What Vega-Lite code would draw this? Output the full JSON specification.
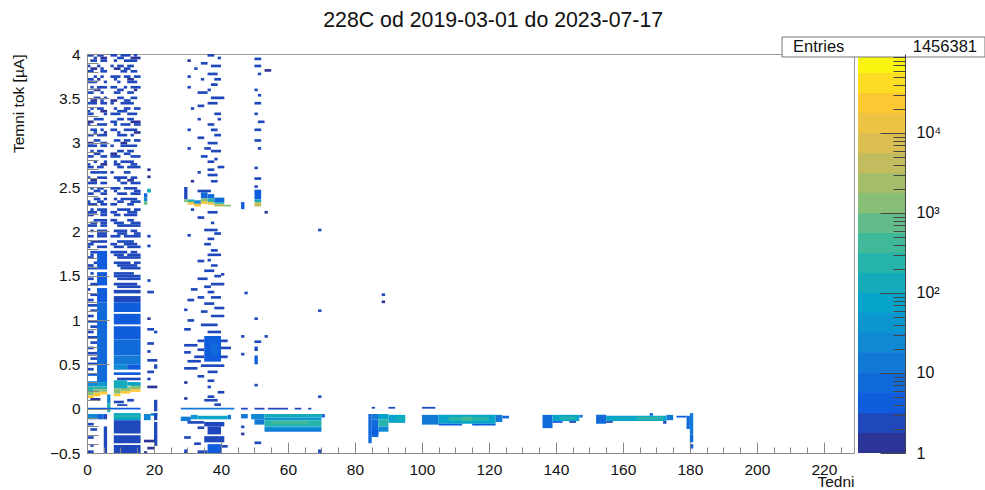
{"$schema":"https://vega.github.io/schema/vega-lite/v6.json","background":"white","padding":{"left":10,"top":10,"right":0,"bottom":0},"bounds":"flush","spacing":4,"title":{"text":"228C od 2019-03-01 do 2023-07-17","anchor":"middle","font":"Liberation Sans","fontSize":21.3,"fontWeight":"normal","color":"#111","offset":5,"dx":-5},"config":{"text":{"font":"Liberation Sans"}},"hconcat":[{"width":767,"height":399,"view":{"stroke":"#999"},"data":{"values":[
{"w":0,"e":2,"a":3.97,"b":4,"n":2},{"w":3,"e":5,"a":3.97,"b":4,"n":2},{"w":7,"e":9,"a":3.97,"b":4,"n":2},{"w":10,"e":13,"a":3.97,"b":4,"n":2},{"w":14,"e":15,"a":3.97,"b":4,"n":2},
{"w":2,"e":3,"a":3.94,"b":3.97,"n":2},{"w":4,"e":6,"a":3.94,"b":3.97,"n":1},{"w":9,"e":11,"a":3.94,"b":3.97,"n":2},{"w":13,"e":16,"a":3.94,"b":3.97,"n":1},
{"w":1,"e":3,"a":3.91,"b":3.94,"n":2},{"w":4,"e":6,"a":3.91,"b":3.94,"n":2},{"w":8,"e":9,"a":3.91,"b":3.94,"n":2},{"w":11,"e":15,"a":3.91,"b":3.94,"n":2},
{"w":0,"e":1,"a":3.85,"b":3.88,"n":2},{"w":3,"e":4,"a":3.85,"b":3.88,"n":2},{"w":7,"e":8,"a":3.85,"b":3.88,"n":2},{"w":9,"e":11,"a":3.85,"b":3.88,"n":2},{"w":12,"e":14,"a":3.85,"b":3.88,"n":2},
{"w":1,"e":3,"a":3.82,"b":3.85,"n":1},{"w":4,"e":5,"a":3.82,"b":3.85,"n":2},{"w":8,"e":10,"a":3.82,"b":3.85,"n":1},{"w":11,"e":13,"a":3.82,"b":3.85,"n":2},
{"w":0,"e":2,"a":3.79,"b":3.82,"n":2},{"w":4,"e":6,"a":3.79,"b":3.82,"n":2},{"w":10,"e":12,"a":3.79,"b":3.82,"n":2},{"w":13,"e":15,"a":3.79,"b":3.82,"n":2},
{"w":2,"e":3,"a":3.73,"b":3.76,"n":2},{"w":4,"e":5,"a":3.73,"b":3.76,"n":2},{"w":7,"e":10,"a":3.73,"b":3.76,"n":2},{"w":11,"e":13,"a":3.73,"b":3.76,"n":2},{"w":14,"e":16,"a":3.73,"b":3.76,"n":2},
{"w":0,"e":2,"a":3.7,"b":3.73,"n":2},{"w":3,"e":4,"a":3.7,"b":3.73,"n":1},{"w":8,"e":9,"a":3.7,"b":3.73,"n":2},{"w":12,"e":14,"a":3.7,"b":3.73,"n":1},
{"w":0,"e":3,"a":3.67,"b":3.7,"n":2},{"w":5,"e":6,"a":3.67,"b":3.7,"n":2},{"w":9,"e":10,"a":3.67,"b":3.7,"n":2},{"w":12,"e":15,"a":3.67,"b":3.7,"n":2},
{"w":1,"e":2,"a":3.61,"b":3.64,"n":2},{"w":3,"e":6,"a":3.61,"b":3.64,"n":2},{"w":7,"e":9,"a":3.61,"b":3.64,"n":2},{"w":11,"e":12,"a":3.61,"b":3.64,"n":2},{"w":13,"e":16,"a":3.61,"b":3.64,"n":2},
{"w":2,"e":4,"a":3.58,"b":3.61,"n":1},{"w":9,"e":11,"a":3.58,"b":3.61,"n":2},{"w":14,"e":15,"a":3.58,"b":3.61,"n":1},
{"w":0,"e":2,"a":3.55,"b":3.58,"n":2},{"w":4,"e":5,"a":3.55,"b":3.58,"n":2},{"w":8,"e":10,"a":3.55,"b":3.58,"n":2},{"w":12,"e":14,"a":3.55,"b":3.58,"n":2},
{"w":2,"e":4,"a":3.49,"b":3.52,"n":2},{"w":5,"e":6,"a":3.49,"b":3.52,"n":2},{"w":9,"e":11,"a":3.49,"b":3.52,"n":2},{"w":13,"e":15,"a":3.49,"b":3.52,"n":2},
{"w":1,"e":3,"a":3.46,"b":3.49,"n":1},{"w":4,"e":5,"a":3.46,"b":3.49,"n":2},{"w":7,"e":9,"a":3.46,"b":3.49,"n":1},{"w":11,"e":13,"a":3.46,"b":3.49,"n":2},
{"w":0,"e":3,"a":3.43,"b":3.46,"n":2},{"w":4,"e":6,"a":3.43,"b":3.46,"n":2},{"w":7,"e":8,"a":3.43,"b":3.46,"n":2},{"w":10,"e":14,"a":3.43,"b":3.46,"n":2},
{"w":1,"e":2,"a":3.37,"b":3.4,"n":2},{"w":3,"e":5,"a":3.37,"b":3.4,"n":2},{"w":8,"e":9,"a":3.37,"b":3.4,"n":2},{"w":11,"e":13,"a":3.37,"b":3.4,"n":2},{"w":14,"e":16,"a":3.37,"b":3.4,"n":2},
{"w":0,"e":1,"a":3.34,"b":3.37,"n":2},{"w":4,"e":6,"a":3.34,"b":3.37,"n":1},{"w":9,"e":12,"a":3.34,"b":3.37,"n":2},
{"w":0,"e":2,"a":3.31,"b":3.34,"n":2},{"w":5,"e":6,"a":3.31,"b":3.34,"n":2},{"w":7,"e":10,"a":3.31,"b":3.34,"n":2},{"w":12,"e":15,"a":3.31,"b":3.34,"n":2},
{"w":2,"e":5,"a":3.25,"b":3.28,"n":2},{"w":9,"e":11,"a":3.25,"b":3.28,"n":2},{"w":12,"e":14,"a":3.25,"b":3.28,"n":2},
{"w":0,"e":2,"a":3.22,"b":3.25,"n":1},{"w":7,"e":9,"a":3.22,"b":3.25,"n":2},{"w":13,"e":16,"a":3.22,"b":3.25,"n":1},
{"w":0,"e":1,"a":3.19,"b":3.22,"n":2},{"w":3,"e":6,"a":3.19,"b":3.22,"n":2},{"w":8,"e":9,"a":3.19,"b":3.22,"n":2},{"w":10,"e":13,"a":3.19,"b":3.22,"n":2},{"w":14,"e":16,"a":3.19,"b":3.22,"n":2},
{"w":1,"e":3,"a":3.13,"b":3.16,"n":2},{"w":4,"e":5,"a":3.13,"b":3.16,"n":2},{"w":7,"e":9,"a":3.13,"b":3.16,"n":2},{"w":11,"e":15,"a":3.13,"b":3.16,"n":2},
{"w":2,"e":3,"a":3.1,"b":3.13,"n":2},{"w":5,"e":6,"a":3.1,"b":3.13,"n":1},{"w":9,"e":10,"a":3.1,"b":3.13,"n":2},{"w":14,"e":16,"a":3.1,"b":3.13,"n":1},
{"w":0,"e":2,"a":3.07,"b":3.1,"n":2},{"w":3,"e":6,"a":3.07,"b":3.1,"n":2},{"w":9,"e":12,"a":3.07,"b":3.1,"n":2},{"w":13,"e":14,"a":3.07,"b":3.1,"n":2},
{"w":2,"e":4,"a":3.01,"b":3.04,"n":2},{"w":8,"e":10,"a":3.01,"b":3.04,"n":2},{"w":11,"e":13,"a":3.01,"b":3.04,"n":2},{"w":14,"e":16,"a":3.01,"b":3.04,"n":2},
{"w":0,"e":2,"a":2.98,"b":3.01,"n":1},{"w":4,"e":6,"a":2.98,"b":3.01,"n":2},{"w":10,"e":12,"a":2.98,"b":3.01,"n":1},
{"w":0,"e":3,"a":2.95,"b":2.98,"n":2},{"w":4,"e":6,"a":2.95,"b":2.98,"n":2},{"w":7,"e":8,"a":2.95,"b":2.98,"n":2},{"w":10,"e":15,"a":2.95,"b":2.98,"n":2},
{"w":1,"e":2,"a":2.89,"b":2.92,"n":2},{"w":3,"e":5,"a":2.89,"b":2.92,"n":2},{"w":9,"e":11,"a":2.89,"b":2.92,"n":2},{"w":12,"e":14,"a":2.89,"b":2.92,"n":2},
{"w":2,"e":4,"a":2.86,"b":2.89,"n":2},{"w":7,"e":9,"a":2.86,"b":2.89,"n":1},{"w":11,"e":13,"a":2.86,"b":2.89,"n":2},
{"w":0,"e":2,"a":2.83,"b":2.86,"n":2},{"w":4,"e":6,"a":2.83,"b":2.86,"n":2},{"w":7,"e":10,"a":2.83,"b":2.86,"n":2},{"w":13,"e":16,"a":2.83,"b":2.86,"n":2},
{"w":2,"e":3,"a":2.77,"b":2.8,"n":2},{"w":5,"e":6,"a":2.77,"b":2.8,"n":2},{"w":8,"e":9,"a":2.77,"b":2.8,"n":2},{"w":10,"e":14,"a":2.77,"b":2.8,"n":2},
{"w":0,"e":1,"a":2.74,"b":2.77,"n":2},{"w":4,"e":6,"a":2.74,"b":2.77,"n":1},{"w":8,"e":10,"a":2.74,"b":2.77,"n":2},{"w":13,"e":15,"a":2.74,"b":2.77,"n":2},
{"w":0,"e":2,"a":2.71,"b":2.74,"n":2},{"w":3,"e":5,"a":2.71,"b":2.74,"n":2},{"w":9,"e":11,"a":2.71,"b":2.74,"n":2},{"w":12,"e":16,"a":2.71,"b":2.74,"n":2},
{"w":1,"e":4,"a":2.65,"b":2.68,"n":2},{"w":4,"e":6,"a":2.65,"b":2.68,"n":2},{"w":7,"e":8,"a":2.65,"b":2.68,"n":2},{"w":11,"e":13,"a":2.65,"b":2.68,"n":2},
{"w":0,"e":1,"a":2.59,"b":2.62,"n":2},{"w":3,"e":6,"a":2.59,"b":2.62,"n":2},{"w":8,"e":12,"a":2.59,"b":2.62,"n":2},{"w":13,"e":15,"a":2.59,"b":2.62,"n":2},
{"w":1,"e":3,"a":2.56,"b":2.59,"n":1},{"w":9,"e":10,"a":2.56,"b":2.59,"n":2},{"w":12,"e":14,"a":2.56,"b":2.59,"n":1},
{"w":0,"e":3,"a":2.53,"b":2.56,"n":2},{"w":4,"e":6,"a":2.53,"b":2.56,"n":2},{"w":10,"e":12,"a":2.53,"b":2.56,"n":2},{"w":13,"e":16,"a":2.53,"b":2.56,"n":2},
{"w":1,"e":2,"a":2.47,"b":2.5,"n":2},{"w":3,"e":5,"a":2.47,"b":2.5,"n":2},{"w":7,"e":10,"a":2.47,"b":2.5,"n":2},{"w":11,"e":15,"a":2.47,"b":2.5,"n":2},
{"w":2,"e":4,"a":2.44,"b":2.47,"n":2},{"w":5,"e":6,"a":2.44,"b":2.47,"n":2},{"w":8,"e":9,"a":2.44,"b":2.47,"n":2},{"w":14,"e":16,"a":2.44,"b":2.47,"n":2},
{"w":0,"e":2,"a":2.41,"b":2.44,"n":2},{"w":4,"e":6,"a":2.41,"b":2.44,"n":2},{"w":9,"e":12,"a":2.41,"b":2.44,"n":2},{"w":13,"e":16,"a":2.41,"b":2.44,"n":2},
{"w":2,"e":4,"a":2.35,"b":2.38,"n":2},{"w":5,"e":6,"a":2.35,"b":2.38,"n":2},{"w":8,"e":9,"a":2.35,"b":2.38,"n":2},{"w":10,"e":15,"a":2.35,"b":2.38,"n":2},
{"w":0,"e":1,"a":2.32,"b":2.35,"n":2},{"w":3,"e":5,"a":2.32,"b":2.35,"n":2},{"w":9,"e":11,"a":2.32,"b":2.35,"n":2},{"w":13,"e":16,"a":2.32,"b":2.35,"n":2},
{"w":0,"e":3,"a":2.29,"b":2.32,"n":2},{"w":4,"e":6,"a":2.29,"b":2.32,"n":2},{"w":7,"e":9,"a":2.29,"b":2.32,"n":2},{"w":12,"e":14,"a":2.29,"b":2.32,"n":2},
{"w":1,"e":2,"a":2.23,"b":2.26,"n":2},{"w":3,"e":6,"a":2.23,"b":2.26,"n":2},{"w":9,"e":13,"a":2.23,"b":2.26,"n":2},{"w":14,"e":16,"a":2.23,"b":2.26,"n":2},
{"w":0,"e":3,"a":2.2,"b":2.23,"n":2},{"w":4,"e":6,"a":2.2,"b":2.23,"n":2},{"w":7,"e":9,"a":2.2,"b":2.23,"n":2},{"w":12,"e":15,"a":2.2,"b":2.23,"n":2},
{"w":0,"e":2,"a":2.17,"b":2.2,"n":2},{"w":4,"e":6,"a":2.17,"b":2.2,"n":2},{"w":8,"e":10,"a":2.17,"b":2.2,"n":2},{"w":11,"e":15,"a":2.17,"b":2.2,"n":2},
{"w":2,"e":6,"a":2.11,"b":2.14,"n":2},{"w":7,"e":9,"a":2.11,"b":2.14,"n":2},{"w":12,"e":14,"a":2.11,"b":2.14,"n":2},
{"w":1,"e":3,"a":2.08,"b":2.11,"n":2},{"w":4,"e":6,"a":2.08,"b":2.11,"n":2},{"w":8,"e":11,"a":2.08,"b":2.11,"n":2},{"w":13,"e":16,"a":2.08,"b":2.11,"n":2},
{"w":0,"e":3,"a":2.05,"b":2.08,"n":2},{"w":4,"e":6,"a":2.05,"b":2.08,"n":2},{"w":9,"e":16,"a":2.05,"b":2.08,"n":2},
{"w":1,"e":2,"a":1.99,"b":2.02,"n":2},{"w":3,"e":6,"a":1.99,"b":2.02,"n":2},{"w":8,"e":12,"a":1.99,"b":2.02,"n":2},{"w":13,"e":15,"a":1.99,"b":2.02,"n":2},
{"w":0,"e":2,"a":1.93,"b":1.96,"n":2},{"w":3,"e":6,"a":1.93,"b":1.96,"n":2},{"w":7,"e":10,"a":1.93,"b":1.96,"n":2},{"w":11,"e":16,"a":1.93,"b":1.96,"n":2},
{"w":3,"e":6,"a":1.96,"b":1.99,"n":2},{"w":9,"e":12,"a":1.96,"b":1.99,"n":2},{"w":14,"e":16,"a":1.96,"b":1.99,"n":2},
{"w":1,"e":3,"a":1.87,"b":1.9,"n":2},{"w":3,"e":6,"a":1.87,"b":1.9,"n":2},{"w":9,"e":14,"a":1.87,"b":1.9,"n":2},{"w":7,"e":9,"a":1.84,"b":1.87,"n":2},{"w":11,"e":15,"a":1.84,"b":1.87,"n":2},{"w":0,"e":2,"a":1.84,"b":1.87,"n":2},
{"w":0,"e":1,"a":1.81,"b":1.84,"n":2},{"w":3,"e":6,"a":1.81,"b":1.84,"n":3},{"w":8,"e":11,"a":1.81,"b":1.84,"n":2},{"w":12,"e":16,"a":1.81,"b":1.84,"n":2},
{"w":3,"e":6,"a":1.57,"b":1.78,"n":4},{"w":3,"e":6,"a":1.39,"b":1.54,"n":4},{"w":3,"e":6,"a":1.2,"b":1.36,"n":4},{"w":1,"e":3,"a":1.75,"b":1.78,"n":2},{"w":7,"e":12,"a":1.75,"b":1.78,"n":2},{"w":13,"e":15,"a":1.75,"b":1.78,"n":2},
{"w":8,"e":11,"a":1.72,"b":1.75,"n":2},{"w":12,"e":16,"a":1.72,"b":1.75,"n":2},{"w":1,"e":2,"a":1.72,"b":1.75,"n":2},
{"w":0,"e":2,"a":1.69,"b":1.72,"n":2},{"w":9,"e":16,"a":1.69,"b":1.72,"n":2},{"w":2,"e":3,"a":1.63,"b":1.66,"n":2},{"w":8,"e":13,"a":1.63,"b":1.66,"n":2},{"w":14,"e":16,"a":1.63,"b":1.66,"n":2},{"w":0,"e":2,"a":1.6,"b":1.63,"n":2},{"w":9,"e":15,"a":1.6,"b":1.63,"n":2},
{"w":0,"e":3,"a":1.57,"b":1.6,"n":2},{"w":10,"e":16,"a":1.57,"b":1.6,"n":2},{"w":1,"e":2,"a":1.51,"b":1.54,"n":2},{"w":8,"e":14,"a":1.51,"b":1.54,"n":2},{"w":8,"e":16,"a":1.48,"b":1.51,"n":2},
{"w":0,"e":2,"a":1.45,"b":1.48,"n":2},{"w":9,"e":16,"a":1.45,"b":1.48,"n":2},{"w":1,"e":3,"a":1.39,"b":1.42,"n":2},{"w":8,"e":15,"a":1.39,"b":1.42,"n":2},{"w":9,"e":16,"a":1.36,"b":1.39,"n":2},
{"w":0,"e":1,"a":1.33,"b":1.36,"n":2},{"w":8,"e":16,"a":1.3,"b":1.34,"n":2},{"w":1,"e":3,"a":1.27,"b":1.3,"n":2},{"w":0,"e":2,"a":1.21,"b":1.24,"n":2},{"w":8,"e":16,"a":1.2,"b":1.27,"n":3},
{"w":3,"e":6,"a":0.3,"b":1.2,"n":6},{"w":0,"e":3,"a":1.15,"b":1.18,"n":2},{"w":1,"e":3,"a":1.09,"b":1.12,"n":2},{"w":0,"e":2,"a":1.03,"b":1.06,"n":2},{"w":0,"e":3,"a":0.97,"b":1,"n":3},{"w":1,"e":3,"a":0.91,"b":0.94,"n":2},{"w":0,"e":2,"a":0.85,"b":0.88,"n":3},{"w":0,"e":3,"a":0.79,"b":0.82,"n":2},{"w":1,"e":3,"a":0.73,"b":0.76,"n":3},{"w":0,"e":2,"a":0.67,"b":0.7,"n":2},{"w":0,"e":3,"a":0.61,"b":0.64,"n":3},{"w":1,"e":3,"a":0.55,"b":0.58,"n":2},{"w":0,"e":3,"a":0.49,"b":0.52,"n":3},{"w":0,"e":2,"a":0.43,"b":0.46,"n":3},{"w":0,"e":3,"a":0.37,"b":0.4,"n":4},
{"w":8,"e":16,"a":1.09,"b":1.2,"n":4},{"w":8,"e":16,"a":0.95,"b":1.07,"n":4},{"w":8,"e":16,"a":0.78,"b":0.93,"n":4},{"w":8,"e":16,"a":0.6,"b":0.78,"n":6},{"w":8,"e":16,"a":0.5,"b":0.6,"n":10},{"w":8,"e":12,"a":0.44,"b":0.5,"n":30},{"w":12,"e":16,"a":0.44,"b":0.5,"n":4},{"w":8,"e":16,"a":0.38,"b":0.41,"n":4},{"w":9,"e":16,"a":0.32,"b":0.35,"n":3},
{"w":0,"e":3,"a":0.25,"b":0.31,"n":25},{"w":3,"e":6,"a":0.25,"b":0.3,"n":40},{"w":0,"e":2,"a":0.19,"b":0.25,"n":200},{"w":2,"e":6,"a":0.22,"b":0.25,"n":200},{"w":0,"e":2,"a":0.15,"b":0.19,"n":1500},{"w":2,"e":4,"a":0.18,"b":0.22,"n":1500},{"w":4,"e":6,"a":0.19,"b":0.22,"n":1500},{"w":0,"e":2,"a":0.12,"b":0.15,"n":30000},{"w":2,"e":4,"a":0.14,"b":0.18,"n":30000},{"w":4,"e":6,"a":0.16,"b":0.19,"n":30000},
{"w":6,"e":7,"a":-0.04,"b":0.06,"n":300},{"w":6,"e":7,"a":0.06,"b":0.16,"n":25},{"w":8,"e":10,"a":0.14,"b":0.17,"n":30000},{"w":10,"e":13,"a":0.17,"b":0.2,"n":30000},{"w":13,"e":16,"a":0.19,"b":0.22,"n":30000},{"w":8,"e":10,"a":0.17,"b":0.23,"n":1000},{"w":10,"e":13,"a":0.2,"b":0.25,"n":1000},{"w":13,"e":16,"a":0.22,"b":0.27,"n":1000},{"w":8,"e":12,"a":0.23,"b":0.32,"n":100},{"w":12,"e":16,"a":0.26,"b":0.3,"n":60},
{"w":0,"e":16,"a":-0.01,"b":0.01,"n":4},{"w":1,"e":4,"a":0.09,"b":0.12,"n":1},{"w":8,"e":11,"a":0.06,"b":0.09,"n":2},{"w":12,"e":14,"a":0.08,"b":0.11,"n":2},{"w":9,"e":12,"a":0.03,"b":0.05,"n":2},
{"w":0,"e":3,"a":-0.12,"b":-0.06,"n":30},{"w":3,"e":5,"a":-0.12,"b":-0.06,"n":6},{"w":5,"e":6,"a":-0.12,"b":-0.06,"n":3},{"w":8,"e":16,"a":-0.13,"b":-0.05,"n":60},{"w":8,"e":16,"a":-0.1,"b":-0.07,"n":250},{"w":17,"e":19,"a":-0.13,"b":-0.06,"n":20},{"w":19,"e":21,"a":-0.08,"b":-0.05,"n":20},
{"w":8,"e":16,"a":-0.28,"b":-0.13,"n":3},{"w":8,"e":16,"a":-0.39,"b":-0.3,"n":3},{"w":8,"e":16,"a":-0.5,"b":-0.41,"n":3},{"w":0,"e":2,"a":-0.19,"b":-0.16,"n":2},{"w":1,"e":3,"a":-0.25,"b":-0.22,"n":2},{"w":0,"e":2,"a":-0.34,"b":-0.31,"n":2},{"w":1,"e":2,"a":-0.43,"b":-0.4,"n":2},{"w":5,"e":6,"a":-0.5,"b":-0.2,"n":2},{"w":0,"e":2,"a":-0.5,"b":-0.47,"n":2},
{"w":20,"e":21,"a":-0.03,"b":0.1,"n":3},{"w":20,"e":21,"a":-0.13,"b":-0.05,"n":3},{"w":20,"e":21,"a":-0.42,"b":-0.15,"n":2},{"w":17,"e":20,"a":-0.38,"b":-0.35,"n":1},{"w":18,"e":20,"a":-0.46,"b":-0.43,"n":1},{"w":17,"e":18,"a":-0.5,"b":-0.48,"n":1},
{"w":18,"e":19,"a":1.82,"b":1.85,"n":2},{"w":18,"e":19,"a":1.43,"b":1.46,"n":2},{"w":18,"e":20,"a":1.3,"b":1.33,"n":2},{"w":18,"e":19,"a":1.0,"b":1.03,"n":1},{"w":18,"e":20,"a":0.88,"b":0.91,"n":2},{"w":20,"e":21,"a":0.85,"b":0.88,"n":2},{"w":18,"e":20,"a":0.72,"b":0.75,"n":2},{"w":18,"e":19,"a":0.63,"b":0.66,"n":2},{"w":18,"e":21,"a":0.53,"b":0.56,"n":2},{"w":20,"e":21,"a":0.45,"b":0.5,"n":2},{"w":18,"e":20,"a":0.4,"b":0.43,"n":2},{"w":18,"e":19,"a":0.32,"b":0.35,"n":2},{"w":18,"e":21,"a":0.23,"b":0.26,"n":1},
{"w":18,"e":19,"a":2.44,"b":2.48,"n":60},{"w":17,"e":18,"a":2.38,"b":2.43,"n":6},{"w":17,"e":18,"a":2.34,"b":2.38,"n":30},{"w":17,"e":18,"a":2.3,"b":2.34,"n":800},{"w":18,"e":19,"a":2.44,"b":2.47,"n":100},{"w":18,"e":19,"a":2.68,"b":2.71,"n":1},{"w":18,"e":19,"a":2.6,"b":2.63,"n":1},{"w":18,"e":19,"a":1.93,"b":1.96,"n":2},
{"w":29,"e":30,"a":2.36,"b":2.5,"n":3},{"w":29,"e":30,"a":2.33,"b":2.36,"n":1500},{"w":30,"e":32,"a":2.33,"b":2.36,"n":200},{"w":30,"e":32,"a":2.3,"b":2.33,"n":10000},{"w":32,"e":34,"a":2.31,"b":2.35,"n":30},{"w":32,"e":34,"a":2.28,"b":2.31,"n":15000},{"w":34,"e":36,"a":2.37,"b":2.44,"n":8},{"w":34,"e":36,"a":2.34,"b":2.37,"n":1500},{"w":34,"e":36,"a":2.31,"b":2.34,"n":10000},{"w":36,"e":38,"a":2.37,"b":2.42,"n":8},{"w":36,"e":38,"a":2.33,"b":2.37,"n":300},{"w":36,"e":38,"a":2.3,"b":2.33,"n":10000},{"w":38,"e":41,"a":2.33,"b":2.38,"n":6},{"w":38,"e":41,"a":2.31,"b":2.33,"n":100},{"w":38,"e":41,"a":2.28,"b":2.31,"n":5000},{"w":41,"e":43,"a":2.28,"b":2.3,"n":1000},{"w":33,"e":37,"a":2.44,"b":2.47,"n":2},{"w":31,"e":32,"a":2.23,"b":2.26,"n":2},
{"w":46,"e":47,"a":2.25,"b":2.33,"n":5},{"w":50,"e":52,"a":2.36,"b":2.47,"n":4},{"w":50,"e":52,"a":2.33,"b":2.36,"n":100},{"w":50,"e":52,"a":2.28,"b":2.33,"n":5000},{"w":53,"e":54,"a":2.2,"b":2.23,"n":1},
{"w":36,"e":38,"a":3.97,"b":4,"n":2},{"w":39,"e":40,"a":3.94,"b":3.97,"n":2},{"w":30,"e":31,"a":3.91,"b":3.94,"n":1},{"w":34,"e":36,"a":3.88,"b":3.91,"n":2},{"w":37,"e":40,"a":3.85,"b":3.88,"n":2},{"w":32,"e":33,"a":3.82,"b":3.85,"n":2},{"w":36,"e":39,"a":3.76,"b":3.79,"n":2},{"w":30,"e":31,"a":3.73,"b":3.76,"n":2},{"w":34,"e":35,"a":3.7,"b":3.73,"n":2},{"w":37,"e":39,"a":3.64,"b":3.67,"n":2},{"w":30,"e":31,"a":3.61,"b":3.64,"n":2},{"w":33,"e":36,"a":3.55,"b":3.58,"n":2},{"w":37,"e":41,"a":3.49,"b":3.52,"n":2},{"w":36,"e":39,"a":3.43,"b":3.46,"n":2},{"w":31,"e":32,"a":3.37,"b":3.4,"n":2},{"w":38,"e":40,"a":3.31,"b":3.34,"n":2},{"w":33,"e":34,"a":3.25,"b":3.28,"n":2},{"w":36,"e":38,"a":3.19,"b":3.22,"n":2},{"w":30,"e":31,"a":3.13,"b":3.16,"n":2},{"w":38,"e":40,"a":3.07,"b":3.1,"n":2},{"w":33,"e":35,"a":3.04,"b":3.07,"n":2},{"w":36,"e":39,"a":2.98,"b":3.01,"n":2},{"w":30,"e":31,"a":2.92,"b":2.95,"n":2},{"w":37,"e":40,"a":2.89,"b":2.92,"n":2},{"w":34,"e":36,"a":2.83,"b":2.86,"n":2},{"w":36,"e":38,"a":2.77,"b":2.8,"n":2},{"w":39,"e":41,"a":2.71,"b":2.74,"n":2},{"w":33,"e":34,"a":2.65,"b":2.68,"n":2},{"w":36,"e":39,"a":2.62,"b":2.65,"n":2},{"w":31,"e":32,"a":2.55,"b":2.58,"n":1},{"w":37,"e":39,"a":2.55,"b":2.58,"n":2},
{"w":38,"e":40,"a":3.7,"b":3.73,"n":2},{"w":36,"e":37,"a":3.58,"b":3.61,"n":2},{"w":33,"e":35,"a":3.4,"b":3.43,"n":2},{"w":39,"e":40,"a":3.25,"b":3.28,"n":2},{"w":37,"e":39,"a":3.13,"b":3.16,"n":2},{"w":35,"e":37,"a":2.92,"b":2.95,"n":2},{"w":38,"e":39,"a":2.8,"b":2.83,"n":2},{"w":36,"e":38,"a":2.68,"b":2.71,"n":2},{"w":38,"e":40,"a":1.96,"b":1.99,"n":2},{"w":36,"e":37,"a":1.66,"b":1.69,"n":2},{"w":38,"e":40,"a":1.48,"b":1.51,"n":2},{"w":35,"e":37,"a":1.36,"b":1.39,"n":2},{"w":33,"e":35,"a":1.24,"b":1.27,"n":2},{"w":38,"e":41,"a":1.12,"b":1.15,"n":2},
{"w":36,"e":39,"a":2.2,"b":2.23,"n":2},{"w":33,"e":35,"a":2.14,"b":2.17,"n":2},{"w":37,"e":38,"a":2.08,"b":2.11,"n":2},{"w":35,"e":39,"a":2.0,"b":2.03,"n":2},{"w":30,"e":31,"a":1.94,"b":1.97,"n":2},{"w":36,"e":38,"a":1.9,"b":1.93,"n":2},{"w":35,"e":37,"a":1.84,"b":1.87,"n":2},{"w":37,"e":39,"a":1.77,"b":1.8,"n":2},{"w":36,"e":40,"a":1.72,"b":1.75,"n":2},{"w":33,"e":35,"a":1.65,"b":1.68,"n":2},{"w":37,"e":39,"a":1.6,"b":1.63,"n":2},{"w":35,"e":38,"a":1.54,"b":1.57,"n":2},{"w":40,"e":41,"a":1.5,"b":1.53,"n":2},{"w":33,"e":36,"a":1.45,"b":1.48,"n":2},{"w":37,"e":41,"a":1.39,"b":1.42,"n":2},{"w":31,"e":33,"a":1.33,"b":1.36,"n":2},{"w":36,"e":38,"a":1.3,"b":1.33,"n":2},{"w":37,"e":40,"a":1.24,"b":1.27,"n":2},{"w":30,"e":32,"a":1.21,"b":1.24,"n":2},{"w":35,"e":38,"a":1.17,"b":1.2,"n":2},{"w":29,"e":30,"a":1.1,"b":1.13,"n":2},{"w":34,"e":36,"a":1.08,"b":1.11,"n":2},{"w":37,"e":41,"a":1.03,"b":1.06,"n":2},{"w":30,"e":32,"a":0.98,"b":1.01,"n":2},{"w":34,"e":39,"a":0.93,"b":0.96,"n":2},{"w":29,"e":31,"a":0.88,"b":0.91,"n":2},{"w":36,"e":40,"a":0.85,"b":0.88,"n":3},
{"w":35,"e":40,"a":0.53,"b":0.82,"n":5},{"w":37,"e":39,"a":0.6,"b":0.74,"n":8},{"w":40,"e":42,"a":0.75,"b":0.78,"n":2},{"w":40,"e":43,"a":0.67,"b":0.7,"n":2},{"w":40,"e":42,"a":0.57,"b":0.6,"n":2},{"w":33,"e":35,"a":0.75,"b":0.78,"n":2},{"w":29,"e":33,"a":0.7,"b":0.73,"n":2},{"w":33,"e":35,"a":0.65,"b":0.68,"n":3},{"w":29,"e":31,"a":0.62,"b":0.65,"n":2},{"w":32,"e":35,"a":0.57,"b":0.6,"n":3},{"w":30,"e":34,"a":0.52,"b":0.55,"n":2},{"w":34,"e":41,"a":0.47,"b":0.5,"n":2},{"w":29,"e":33,"a":0.44,"b":0.47,"n":2},{"w":36,"e":39,"a":0.4,"b":0.43,"n":2},{"w":33,"e":35,"a":0.35,"b":0.38,"n":2},{"w":36,"e":38,"a":0.3,"b":0.33,"n":2},{"w":29,"e":30,"a":0.28,"b":0.31,"n":1},{"w":36,"e":37,"a":0.23,"b":0.26,"n":2},{"w":39,"e":41,"a":0.17,"b":0.2,"n":2},{"w":36,"e":38,"a":0.12,"b":0.15,"n":2},{"w":29,"e":30,"a":0.1,"b":0.13,"n":1},{"w":35,"e":39,"a":0.08,"b":0.11,"n":2},{"w":38,"e":40,"a":0.03,"b":0.06,"n":2},
{"w":28,"e":44,"a":-0.01,"b":0.01,"n":15},{"w":46,"e":48,"a":-0.01,"b":0.01,"n":3},{"w":50,"e":53,"a":-0.01,"b":0.01,"n":3},{"w":54,"e":60,"a":-0.01,"b":0.01,"n":3},{"w":62,"e":64,"a":-0.01,"b":0.01,"n":2},{"w":66,"e":67,"a":-0.01,"b":0.01,"n":2},
{"w":28,"e":31,"a":-0.14,"b":-0.09,"n":15},{"w":31,"e":33,"a":-0.12,"b":-0.07,"n":40},{"w":33,"e":42,"a":-0.12,"b":-0.08,"n":80},{"w":42,"e":43,"a":-0.12,"b":-0.07,"n":15},{"w":46,"e":48,"a":-0.11,"b":-0.06,"n":15},
{"w":30,"e":35,"a":-0.17,"b":-0.14,"n":2},{"w":33,"e":35,"a":-0.23,"b":-0.2,"n":2},{"w":35,"e":41,"a":-0.2,"b":-0.15,"n":3},{"w":36,"e":40,"a":-0.29,"b":-0.2,"n":3},{"w":35,"e":41,"a":-0.38,"b":-0.31,"n":3},{"w":36,"e":40,"a":-0.5,"b":-0.4,"n":5},{"w":29,"e":31,"a":-0.34,"b":-0.31,"n":2},{"w":32,"e":34,"a":-0.41,"b":-0.38,"n":2},{"w":29,"e":30,"a":-0.5,"b":-0.46,"n":2},{"w":33,"e":36,"a":-0.5,"b":-0.47,"n":3},{"w":40,"e":42,"a":-0.44,"b":-0.41,"n":2},{"w":46,"e":47,"a":-0.22,"b":-0.19,"n":2},
{"w":50,"e":52,"a":3.93,"b":3.96,"n":2},{"w":50,"e":52,"a":3.85,"b":3.88,"n":2},{"w":51,"e":52,"a":3.76,"b":3.79,"n":2},{"w":50,"e":51,"a":3.58,"b":3.61,"n":2},{"w":51,"e":52,"a":3.52,"b":3.55,"n":2},{"w":50,"e":52,"a":3.43,"b":3.46,"n":2},{"w":50,"e":51,"a":3.31,"b":3.34,"n":2},{"w":51,"e":53,"a":3.22,"b":3.25,"n":2},{"w":50,"e":52,"a":3.13,"b":3.16,"n":2},{"w":50,"e":52,"a":3.01,"b":3.04,"n":2},{"w":51,"e":52,"a":2.92,"b":2.95,"n":3},{"w":50,"e":51,"a":2.7,"b":2.73,"n":2},{"w":50,"e":52,"a":2.58,"b":2.61,"n":2},{"w":50,"e":51,"a":2.49,"b":2.52,"n":2},{"w":53,"e":55,"a":3.8,"b":3.83,"n":1},
{"w":47,"e":48,"a":1.29,"b":1.32,"n":2},{"w":50,"e":51,"a":1.0,"b":1.03,"n":2},{"w":46,"e":47,"a":0.8,"b":0.83,"n":2},{"w":50,"e":52,"a":0.74,"b":0.77,"n":2},{"w":50,"e":51,"a":0.65,"b":0.7,"n":3},{"w":50,"e":51,"a":0.5,"b":0.6,"n":4},{"w":46,"e":47,"a":0.6,"b":0.63,"n":2},{"w":53,"e":54,"a":0.8,"b":0.83,"n":2},{"w":50,"e":51,"a":0.25,"b":0.28,"n":2},{"w":50,"e":52,"a":-0.4,"b":-0.37,"n":2},{"w":46,"e":47,"a":-0.3,"b":-0.27,"n":1},
{"w":49,"e":53,"a":-0.12,"b":-0.06,"n":30},{"w":50,"e":53,"a":-0.18,"b":-0.12,"n":10},{"w":53,"e":70,"a":-0.1,"b":-0.06,"n":100},{"w":53,"e":70,"a":-0.13,"b":-0.1,"n":40},{"w":53,"e":70,"a":-0.2,"b":-0.13,"n":200},{"w":55,"e":66,"a":-0.17,"b":-0.14,"n":500},{"w":53,"e":70,"a":-0.23,"b":-0.2,"n":40},{"w":53,"e":70,"a":-0.26,"b":-0.23,"n":10},{"w":70,"e":71,"a":-0.1,"b":-0.06,"n":6},
{"w":69,"e":70,"a":2.0,"b":2.03,"n":2},{"w":69,"e":70,"a":1.09,"b":1.12,"n":2},{"w":69,"e":70,"a":0.12,"b":0.15,"n":2},{"w":69,"e":70,"a":-0.5,"b":-0.46,"n":2},{"w":88,"e":89,"a":1.27,"b":1.3,"n":2},{"w":88,"e":89,"a":1.19,"b":1.22,"n":1},
{"w":84,"e":85,"a":-0.39,"b":-0.06,"n":8},{"w":85,"e":88,"a":-0.12,"b":-0.06,"n":15},{"w":85,"e":87,"a":-0.32,"b":-0.12,"n":6},{"w":87,"e":90,"a":-0.12,"b":-0.06,"n":80},{"w":87,"e":90,"a":-0.2,"b":-0.12,"n":200},{"w":87,"e":90,"a":-0.26,"b":-0.2,"n":20},{"w":85,"e":87,"a":-0.29,"b":-0.23,"n":4},{"w":90,"e":95,"a":-0.16,"b":-0.07,"n":80},{"w":92,"e":95,"a":-0.13,"b":-0.09,"n":150},{"w":85,"e":86,"a":0,"b":0.02,"n":2},{"w":90,"e":92,"a":0,"b":0.02,"n":2},{"w":100,"e":104,"a":0,"b":0.02,"n":2},
{"w":100,"e":105,"a":-0.18,"b":-0.07,"n":12},{"w":105,"e":122,"a":-0.17,"b":-0.07,"n":80},{"w":108,"e":120,"a":-0.14,"b":-0.09,"n":200},{"w":112,"e":115,"a":-0.14,"b":-0.09,"n":350},{"w":122,"e":124,"a":-0.15,"b":-0.07,"n":12},{"w":124,"e":126,"a":-0.11,"b":-0.08,"n":8},{"w":105,"e":112,"a":-0.19,"b":-0.17,"n":4},{"w":115,"e":122,"a":-0.19,"b":-0.17,"n":4},
{"w":136,"e":139,"a":-0.22,"b":-0.07,"n":6},{"w":139,"e":147,"a":-0.14,"b":-0.07,"n":60},{"w":141,"e":146,"a":-0.12,"b":-0.09,"n":250},{"w":147,"e":148,"a":-0.1,"b":-0.07,"n":15},{"w":139,"e":142,"a":-0.16,"b":-0.14,"n":4},{"w":144,"e":146,"a":-0.16,"b":-0.14,"n":3},
{"w":152,"e":155,"a":-0.17,"b":-0.07,"n":8},{"w":155,"e":173,"a":-0.14,"b":-0.08,"n":60},{"w":164,"e":172,"a":-0.13,"b":-0.09,"n":250},{"w":157,"e":163,"a":-0.12,"b":-0.1,"n":150},{"w":173,"e":175,"a":-0.13,"b":-0.07,"n":10},{"w":168,"e":169,"a":-0.08,"b":-0.05,"n":8},{"w":172,"e":173,"a":-0.17,"b":-0.14,"n":3},{"w":155,"e":157,"a":-0.16,"b":-0.14,"n":3},
{"w":176,"e":179,"a":-0.1,"b":-0.08,"n":4},{"w":179,"e":180,"a":-0.23,"b":-0.08,"n":8},{"w":180,"e":181,"a":-0.29,"b":-0.05,"n":15},{"w":180,"e":181,"a":-0.38,"b":-0.29,"n":8},{"w":180,"e":181,"a":-0.45,"b":-0.4,"n":5}
]},"mark":{"type":"rect","stroke":null},"encoding":{"x":{"field":"w","type":"quantitative","title":"Tedni","scale":{"domain":[0,229],"nice":false,"zero":false},"axis":{"zindex":1,"values":[0,5,10,15,20,25,30,35,40,45,50,55,60,65,70,75,80,85,90,95,100,105,110,115,120,125,130,135,140,145,150,155,160,165,170,175,180,185,190,195,200,205,210,215,220,225],"labelExpr":"datum.value%20==0?format(datum.value,'d'):''","labelOverlap":false,"labelFont":"Liberation Sans","labelFontSize":15.5,"labelColor":"#111","labelPadding":20,"labelFlush":false,"tickColor":"#888","domainColor":"#888","grid":false,"tickSize":{"condition":{"test":"datum.value%20==0","value":-11},"value":-6},"titleFont":"Liberation Sans","titleFontSize":15.5,"titleFontWeight":"normal","titleColor":"#111","titleAnchor":"end","titlePadding":-8}},"x2":{"field":"e"},"y":{"field":"a","type":"quantitative","title":"Temni tok [µA]","scale":{"domain":[-0.5,4],"nice":false,"zero":false},"axis":{"zindex":1,"values":[-0.5,-0.4,-0.3,-0.2,-0.1,0,0.1,0.2,0.3,0.4,0.5,0.6,0.7,0.8,0.9,1,1.1,1.2,1.3,1.4,1.5,1.6,1.7,1.8,1.9,2,2.1,2.2,2.3,2.4,2.5,2.6,2.7,2.8,2.9,3,3.1,3.2,3.3,3.4,3.5,3.6,3.7,3.8,3.9,4],"labelExpr":"abs(datum.value*2-round(datum.value*2))<0.001?format(datum.value,'.1~f'):''","labelOverlap":false,"labelFont":"Liberation Sans","labelFontSize":15.5,"labelColor":"#111","labelPadding":29,"tickColor":"#888","domainColor":"#888","grid":false,"tickSize":{"condition":{"test":"abs(datum.value*2-round(datum.value*2))<0.001","value":-22},"value":-11},"titleFont":"Liberation Sans","titleFontSize":15.5,"titleFontWeight":"normal","titleColor":"#111","titleAnchor":"end","titlePadding":23}},"y2":{"field":"b"},"color":{"field":"n","type":"quantitative","legend":null,"scale":{"type":"threshold","domain":[1.778,3.162,5.623,10,17.78,31.62,56.23,100,177.8,316.2,562.3,1000,1778,3162,5623,10000,17783,31623,56234],"range":["#2d3498","#1e48bb","#0f5cdd","#116ada","#1379d7","#1188d3","#0b96cf","#06a4ca","#16abbb","#26b3ab","#40b99b","#63bc89","#87bf77","#a5bd6b","#c2bc5f","#dabe51","#ecc342","#fec832","#fcdd24","#f9f510"]}}}},
{"width":47,"height":399,"view":{"stroke":null},"layer":[{"data":{"values":[{"lo":1,"hi":1.778,"n":1.4},{"lo":1.778,"hi":3.162,"n":2.4},{"lo":3.162,"hi":5.623,"n":4.2},{"lo":5.623,"hi":10,"n":7.5},{"lo":10,"hi":17.78,"n":13},{"lo":17.78,"hi":31.62,"n":24},{"lo":31.62,"hi":56.23,"n":42},{"lo":56.23,"hi":100,"n":75},{"lo":100,"hi":177.8,"n":130},{"lo":177.8,"hi":316.2,"n":240},{"lo":316.2,"hi":562.3,"n":420},{"lo":562.3,"hi":1000,"n":750},{"lo":1000,"hi":1778,"n":1300},{"lo":1778,"hi":3162,"n":2400},{"lo":3162,"hi":5623,"n":4200},{"lo":5623,"hi":10000,"n":7500},{"lo":10000,"hi":17783,"n":13000},{"lo":17783,"hi":31623,"n":24000},{"lo":31623,"hi":56234,"n":42000},{"lo":56234,"hi":97000,"n":75000}]},"mark":{"type":"rect","stroke":null},"encoding":{"x":{"datum":0,"type":"quantitative","scale":{"domain":[0,1],"nice":false,"zero":false},"axis":null},"x2":{"datum":1},"y":{"field":"lo","type":"quantitative","title":null,"scale":{"type":"log","domain":[1,97000],"nice":false},"axis":{"zindex":1,"orient":"right","values":[1,2,3,4,5,6,7,8,9,10,20,30,40,50,60,70,80,90,100,200,300,400,500,600,700,800,900,1000,2000,3000,4000,5000,6000,7000,8000,9000,10000,20000,30000,40000,50000,60000,70000,80000,90000],"labelExpr":"datum.value==1?'1':datum.value==10?'10':datum.value==100?'10²':datum.value==1000?'10³':datum.value==10000?'10⁴':''","labelOverlap":false,"labelFont":"Liberation Sans","labelFontSize":16,"labelColor":"#111","labelPadding":36,"tickColor":"#444","domainColor":"#444","grid":false,"tickSize":{"condition":{"test":"abs(log(datum.value)/LN10-round(log(datum.value)/LN10))<0.001","value":-25},"value":-12}}},"y2":{"field":"hi"},"color":{"field":"n","type":"quantitative","legend":null,"scale":{"type":"threshold","domain":[1.778,3.162,5.623,10,17.78,31.62,56.23,100,177.8,316.2,562.3,1000,1778,3162,5623,10000,17783,31623,56234],"range":["#2d3498","#1e48bb","#0f5cdd","#116ada","#1379d7","#1188d3","#0b96cf","#06a4ca","#16abbb","#26b3ab","#40b99b","#63bc89","#87bf77","#a5bd6b","#c2bc5f","#dabe51","#ecc342","#fec832","#fcdd24","#f9f510"]}}}},
{"data":{"values":[{"label":"Entries","value":"1456381"}]},"layer":[{"mark":{"type":"rect","fill":"white","stroke":"#777","strokeWidth":1,"clip":false},"encoding":{"x":{"datum":-1.617,"type":"quantitative"},"x2":{"datum":2.702},"y":{"datum":89000,"type":"quantitative"},"y2":{"datum":158000}}},{"mark":{"type":"text","align":"left","baseline":"middle","font":"Liberation Sans","fontSize":16.5,"color":"#111","clip":false},"encoding":{"text":{"field":"label"},"x":{"datum":-1.383,"type":"quantitative"},"y":{"datum":119000,"type":"quantitative"}}},{"mark":{"type":"text","align":"right","baseline":"middle","font":"Liberation Sans","fontSize":16.5,"color":"#111","clip":false},"encoding":{"text":{"field":"value"},"x":{"datum":2.532,"type":"quantitative"},"y":{"datum":119000,"type":"quantitative"}}}]}]}]}
